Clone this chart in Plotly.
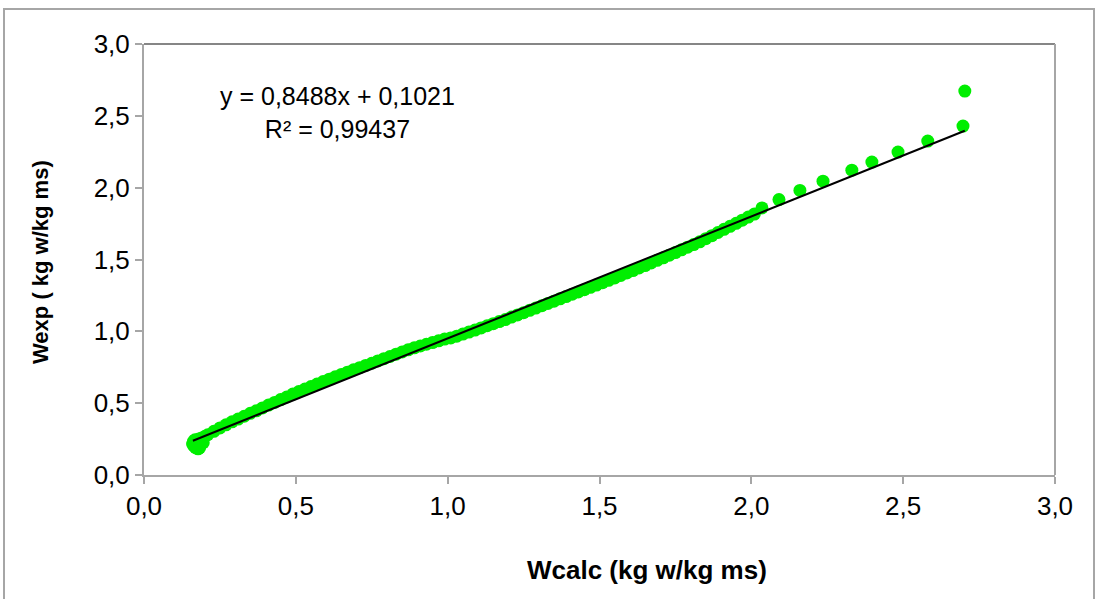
import plotly.graph_objects as go

# ---- data ----
wcalc = [0.160, 0.163, 0.165, 0.168, 0.170, 0.173, 0.175, 0.178, 0.180, 0.183, 0.186, 0.190, 0.195, 0.200,
         0.21, 0.23, 0.25, 0.27, 0.29, 0.31, 0.33, 0.35, 0.37, 0.39, 0.41, 0.43, 0.45, 0.47, 0.49,
         0.51, 0.53, 0.55, 0.57, 0.59, 0.61, 0.63, 0.65, 0.67, 0.69, 0.71, 0.73, 0.75, 0.77, 0.79,
         0.81, 0.83, 0.85, 0.87, 0.89, 0.91, 0.93, 0.95, 0.97, 0.99,
         1.01, 1.03, 1.05, 1.07, 1.09, 1.11, 1.13, 1.15, 1.17, 1.19, 1.21, 1.23, 1.25, 1.27, 1.29,
         1.31, 1.33, 1.35, 1.37, 1.39, 1.41, 1.43, 1.45, 1.47, 1.49, 1.51, 1.53, 1.55, 1.57, 1.59,
         1.61, 1.63, 1.65, 1.67, 1.69, 1.71, 1.73, 1.75, 1.77, 1.79, 1.81, 1.83, 1.85, 1.87, 1.89,
         1.91, 1.93, 1.95, 1.97, 1.99, 2.01,
         2.035, 2.091, 2.160, 2.236, 2.331, 2.397, 2.483, 2.581, 2.697, 2.703]
wexp = [0.215, 0.235, 0.200, 0.245, 0.190, 0.228, 0.205, 0.182, 0.250, 0.188, 0.212, 0.258, 0.225, 0.268,
        0.280, 0.304, 0.328, 0.349, 0.370, 0.389, 0.409, 0.429, 0.447, 0.467, 0.487, 0.505, 0.525, 0.543, 0.563,
        0.581, 0.598, 0.616, 0.633, 0.650, 0.667, 0.684, 0.700, 0.716, 0.732, 0.747, 0.763, 0.778, 0.794, 0.810,
        0.825, 0.841, 0.856, 0.871, 0.885, 0.898, 0.910, 0.922, 0.934, 0.946,
        0.954, 0.966, 0.981, 0.995, 1.009, 1.024, 1.039, 1.053, 1.068, 1.082, 1.099, 1.114, 1.130, 1.146, 1.162,
        1.178, 1.194, 1.210, 1.226, 1.242, 1.258, 1.274, 1.290, 1.306, 1.322, 1.339, 1.355, 1.372, 1.389, 1.406,
        1.423, 1.441, 1.458, 1.476, 1.494, 1.512, 1.530, 1.548, 1.567, 1.586, 1.604, 1.623, 1.645, 1.666, 1.688,
        1.710, 1.731, 1.752, 1.774, 1.795, 1.816,
        1.859, 1.917, 1.981, 2.045, 2.122, 2.178, 2.248, 2.324, 2.429, 2.672]

slope = 0.8488
intercept = 0.1021
trend_x = [0.161, 2.703]
trend_y = [slope * v + intercept for v in trend_x]

equation_text = "y = 0,8488x + 0,1021<br>R² = 0,99437"
x_title = "Wcalc (kg w/kg ms)"
y_title = "Wexp ( kg w/kg ms)"

FONT = "Liberation Sans, Arial, sans-serif"
AXIS_GRAY = "#a6a6a6"
FRAME_GRAY = "#868686"

fig = go.Figure()
fig.add_trace(go.Scatter(x=wcalc, y=wexp, mode="markers",
                         marker=dict(size=13, color="#00ee00", line=dict(width=0)),
                         showlegend=False, hoverinfo="x+y"))
fig.add_trace(go.Scatter(x=trend_x, y=trend_y, mode="lines",
                         line=dict(color="black", width=2), showlegend=False))

axis_common = dict(
    showgrid=False, zeroline=False, showline=True, linecolor=AXIS_GRAY, linewidth=2,
    ticks="outside", ticklen=7, tickwidth=2, tickcolor=AXIS_GRAY,
    tickfont=dict(family=FONT, size=26, color="black"),
    tickformat=".1f", dtick=0.5, tick0=0,
)
fig.update_xaxes(range=[0, 3], **axis_common)
fig.update_yaxes(range=[0, 3], **axis_common)

fig.update_layout(
    width=1098, height=599,
    margin=dict(l=144, r=43, t=44, b=124),
    paper_bgcolor="white", plot_bgcolor="white",
    separators=", ",
    font=dict(family=FONT, color="black"),
    shapes=[
        dict(type="line", xref="paper", yref="paper", x0=0, x1=1, y0=1, y1=1,
             line=dict(color=FRAME_GRAY, width=2)),
        dict(type="line", xref="paper", yref="paper", x0=1, x1=1, y0=0, y1=1,
             line=dict(color=AXIS_GRAY, width=2)),
        dict(type="rect", xref="paper", yref="paper",
             x0=(4 - 144) / 911, x1=(1094 - 144) / 911,
             y0=(475 - 620) / 431, y1=(475 - 9) / 431,
             line=dict(color=AXIS_GRAY, width=2), fillcolor="rgba(0,0,0,0)", layer="below"),
    ],
    annotations=[
        dict(text=equation_text, xref="paper", yref="paper",
             x=(337 - 144) / 911, y=(475 - 112) / 431, xanchor="center", yanchor="middle",
             showarrow=False, align="center", font=dict(family=FONT, size=25, color="black")),
        dict(text="<b>" + x_title + "</b>", xref="paper", yref="paper",
             x=(647 - 144) / 911, y=(475 - 570) / 431, xanchor="center", yanchor="middle",
             showarrow=False, font=dict(family=FONT, size=26, color="black")),
        dict(text="<b>" + y_title + "</b>", xref="paper", yref="paper",
             x=(40 - 144) / 911, y=(475 - 262) / 431, xanchor="center", yanchor="middle",
             showarrow=False, textangle=-90, font=dict(family=FONT, size=22, color="black")),
    ],
)

fig.write_html("out.html")
